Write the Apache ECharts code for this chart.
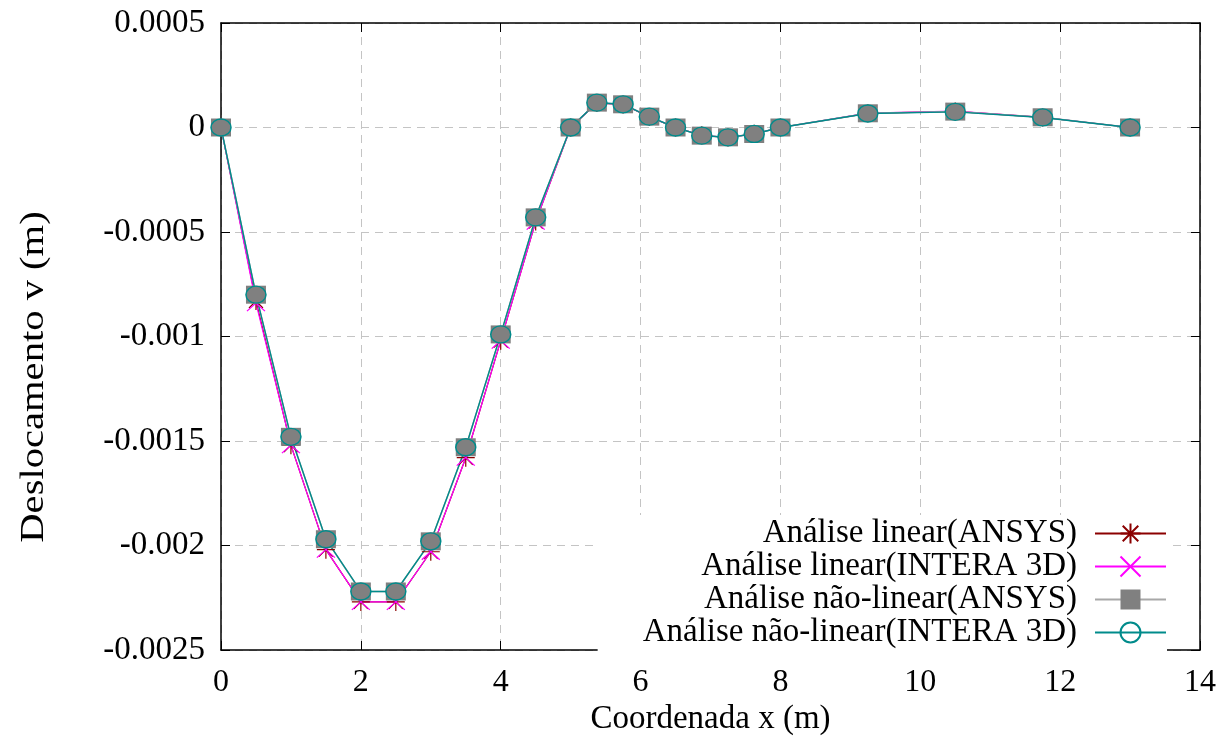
<!DOCTYPE html>
<html>
<head>
<meta charset="utf-8">
<script src="https://cdn.jsdelivr.net/npm/echarts@6/dist/echarts.min.js"></script>
<style>
  html, body { margin: 0; padding: 0; background: #fff; }
  #chart { width: 1230px; height: 745px; }
</style>
</head>
<body>
<div id="chart"></div>
<script>
// x coordinates of the nodes (m)
const xs = [0, 0.5, 1, 1.5, 2, 2.5, 3, 3.5, 4, 4.5, 5, 5.375, 5.75, 6.125, 6.5, 6.875, 7.25, 7.625, 8, 9.25, 10.5, 11.75, 13];

// vertical displacement v (m)
const linearAnsys = [0, -0.00083, -0.00152, -0.00202, -0.00227, -0.00227, -0.00203, -0.00158, -0.00102, -0.00045, 0, 0.000117, 0.00011, 0.00005, 0, -0.000037, -0.000048, -0.00003, 0, 0.000068, 0.000077, 0.000048, 0];
const linearIntera = [0, -0.00084, -0.00152, -0.00202, -0.00227, -0.00227, -0.00203, -0.00158, -0.00102, -0.00045, 0, 0.000118, 0.000111, 0.000051, 0, -0.000037, -0.000048, -0.00003, 0, 0.000069, 0.000078, 0.000049, 0];
const nonlinAnsys = [0, -0.0008, -0.00148, -0.00197, -0.00222, -0.00222, -0.00198, -0.00153, -0.00099, -0.00043, 0, 0.000119, 0.000111, 0.000052, 0, -0.000039, -0.000047, -0.000031, 0, 0.000068, 0.000076, 0.000049, 0];
const nonlinIntera = [0, -0.0008, -0.00148, -0.00197, -0.00222, -0.00222, -0.00198, -0.00153, -0.00099, -0.00043, 0, 0.000119, 0.000111, 0.000052, 0, -0.000039, -0.000047, -0.000031, 0, 0.000067, 0.000075, 0.000048, 0];

const names = [
  'Análise linear(ANSYS)',
  'Análise linear(INTERA 3D)',
  'Análise não-linear(ANSYS)',
  'Análise não-linear(INTERA 3D)'
];

const font = 'Liberation Serif';
const pairs = ys => xs.map((x, i) => [x, ys[i]]);

const chart = echarts.init(document.getElementById('chart'));

const border = { show: true, onZero: false, lineStyle: { color: '#000', width: 1.5 } };
const tickStyle = { show: true, inside: true, length: 9, lineStyle: { color: '#000', width: 1 } };
const gridStyle = { show: true, lineStyle: { color: '#c4c4c4', type: [8, 6], width: 1 } };

chart.setOption({
  animation: false,
  backgroundColor: '#fff',
  grid: { left: 221, right: 30, top: 23, bottom: 95 },
  xAxis: [{
    type: 'value', min: 0, max: 14, interval: 2,
    name: 'Coordenada x (m)', nameLocation: 'middle', nameGap: 53, nameMoveOverlap: false,
    nameTextStyle: { fontFamily: font, fontSize: 33, color: '#000' },
    axisLine: border,
    axisTick: tickStyle,
    axisLabel: { fontFamily: font, fontSize: 32, color: '#000', margin: 17 },
    splitLine: gridStyle
  }, {
    type: 'value', min: 0, max: 14, interval: 2, position: 'top',
    axisLine: border,
    axisTick: tickStyle, axisLabel: { show: false }, splitLine: { show: false }
  }],
  yAxis: [{
    type: 'value', min: -0.0025, max: 0.0005, interval: 0.0005,
    axisLine: border,
    axisTick: tickStyle,
    axisLabel: {
      fontFamily: font, fontSize: 33, color: '#000', margin: 16,
      formatter: v => String(+v.toFixed(4))
    },
    splitLine: gridStyle
  }, {
    type: 'value', min: -0.0025, max: 0.0005, interval: 0.0005, position: 'right',
    axisLine: border,
    axisTick: tickStyle, axisLabel: { show: false }, splitLine: { show: false }
  }],
  graphic: [{
    type: 'text', x: 34, y: 377, rotation: Math.PI / 2, scaleX: 1.23,
    style: { text: 'Deslocamento v (m)', fontFamily: font, fontSize: 33, fill: '#000', align: 'center', verticalAlign: 'middle' }
  }],
  legend: {
    orient: 'vertical', align: 'right',
    right: 63, top: 515,
    itemWidth: 71, itemHeight: 25, itemGap: 0,
    backgroundColor: '#fff',
    padding: [2, 0, 2, 45],
    textStyle: { fontFamily: font, fontSize: 33, color: '#000', lineHeight: 31.7, padding: [0, 13, 0, 0] },
    data: names
  },
  series: [{
    name: names[0], type: 'line', data: pairs(linearAnsys),
    symbol: 'path://M9,0L9,18M0,9L18,9M2,2L16,16M16,2L2,16', symbolSize: [18, 18],
    lineStyle: { color: '#8b0000', width: 1.2 },
    itemStyle: { color: '#8b0000', borderColor: '#8b0000', borderWidth: 1.2 }
  }, {
    name: names[1], type: 'line', data: pairs(linearIntera),
    symbol: 'path://M0,0L18,16M18,0L0,16', symbolSize: [18, 16],
    lineStyle: { color: '#ff00ff', width: 1.2 },
    itemStyle: { color: '#ff00ff', borderColor: '#ff00ff', borderWidth: 1.2 }
  }, {
    name: names[2], type: 'line', data: pairs(nonlinAnsys),
    symbol: 'rect', symbolSize: [20, 18],
    lineStyle: { color: '#a8a8a8', width: 1.5 },
    itemStyle: { color: '#808080' }
  }, {
    name: names[3], type: 'line', data: pairs(nonlinIntera),
    symbol: 'circle', symbolSize: [20, 17],
    lineStyle: { color: '#008b8b', width: 1.4 },
    itemStyle: { color: 'rgba(0,0,0,0)', borderColor: '#008b8b', borderWidth: 1.4 }
  }]
});
</script>
</body>
</html>
